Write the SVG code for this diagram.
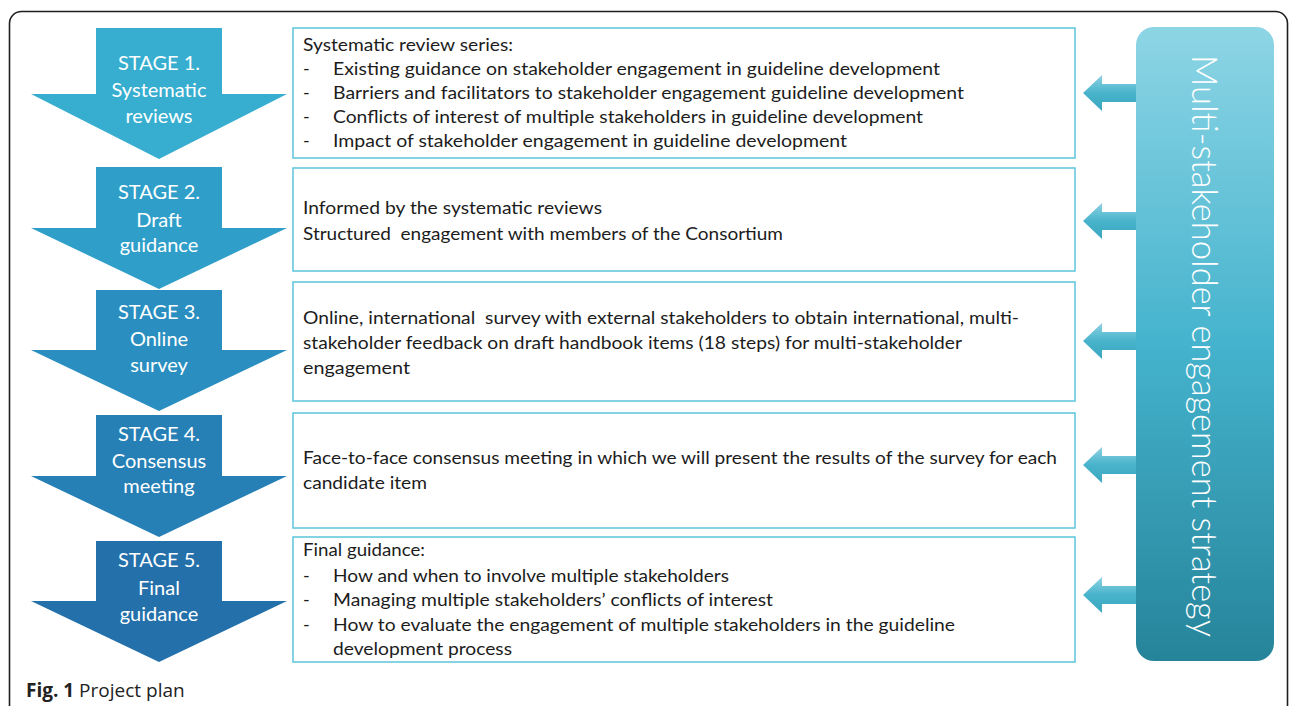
<svg xmlns="http://www.w3.org/2000/svg" width="1290" height="706" viewBox="0 0 1290 706">
<style>
.frame{fill:none;stroke:#1e1e1e;stroke-width:1.6}
.box{fill:#ffffff;stroke:#5cc5dd;stroke-width:1.5}
.st{font-family:Lato,"Open Sans","Liberation Sans",sans-serif;font-size:20px;fill:#ffffff;text-anchor:middle}
.bt{font-family:Lato,"Open Sans","Liberation Sans",sans-serif;font-size:18px;fill:#1c1c1c}
.side{font-family:Lato,"Open Sans","Liberation Sans",sans-serif;font-size:36px;font-weight:300;fill:#ffffff}
.cap{font-family:"Open Sans","Liberation Sans",sans-serif;font-size:19px;fill:#222222}
.la{fill:url(#arrowGrad)}
</style>
<defs>
<linearGradient id="sideGrad" x1="0" y1="0" x2="0" y2="1">
<stop offset="0" stop-color="#8dd5e5"/>
<stop offset="0.5" stop-color="#45b3cd"/>
<stop offset="1" stop-color="#26849a"/>
</linearGradient>
<linearGradient id="arrowGrad" x1="0" y1="0" x2="0" y2="1">
<stop offset="0" stop-color="#8ed3e3"/>
<stop offset="0.5" stop-color="#48b3cb"/>
<stop offset="1" stop-color="#3aa8c0"/>
</linearGradient>
</defs>
<rect width="1290" height="706" fill="#ffffff"/>
<rect class="frame" x="9.5" y="11.5" width="1278" height="730" rx="12"/>

<g id="stage1">
<polygon fill="#37aecf" points="96,28 222,28 222,94 287,94 159,159 31,94 96,94"/>
<text class="st" x="159" y="70">STAGE 1.</text>
<text class="st" x="159" y="97">Systematic</text>
<text class="st" x="159" y="123">reviews</text>
</g>
<g id="stage2">
<polygon fill="#2f9fc9" points="96,167 222,167 222,228 287,228 159,289 31,228 96,228"/>
<text class="st" x="159" y="199">STAGE 2.</text>
<text class="st" x="159" y="227">Draft</text>
<text class="st" x="159" y="252">guidance</text>
</g>
<g id="stage3">
<polygon fill="#2a8fc0" points="96,290 222,290 222,350 287,350 159,411 31,350 96,350"/>
<text class="st" x="159" y="319">STAGE 3.</text>
<text class="st" x="159" y="346">Online</text>
<text class="st" x="159" y="372">survey</text>
</g>
<g id="stage4">
<polygon fill="#2680b6" points="96,415 222,415 222,476 287,476 159,537 31,476 96,476"/>
<text class="st" x="159" y="441">STAGE 4.</text>
<text class="st" x="159" y="468">Consensus</text>
<text class="st" x="159" y="493">meeting</text>
</g>
<g id="stage5">
<polygon fill="#2370aa" points="96,541 222,541 222,601 287,601 159,662 31,601 96,601"/>
<text class="st" x="159" y="567">STAGE 5.</text>
<text class="st" x="159" y="595">Final</text>
<text class="st" x="159" y="621">guidance</text>
</g>

<g id="box1">
<rect class="box" x="293" y="28" width="782" height="130"/>
<text class="bt" x="303" y="51" textLength="210" lengthAdjust="spacingAndGlyphs">Systematic review series:</text>
<text class="bt" x="303" y="75">-</text>
<text class="bt" x="333" y="75" textLength="607" lengthAdjust="spacingAndGlyphs">Existing guidance on stakeholder engagement in guideline development</text>
<text class="bt" x="303" y="99">-</text>
<text class="bt" x="333" y="99" textLength="631" lengthAdjust="spacingAndGlyphs">Barriers and facilitators to stakeholder engagement guideline development</text>
<text class="bt" x="303" y="123">-</text>
<text class="bt" x="333" y="123" textLength="590" lengthAdjust="spacingAndGlyphs">Conflicts of interest of multiple stakeholders in guideline development</text>
<text class="bt" x="303" y="147">-</text>
<text class="bt" x="333" y="147" textLength="514" lengthAdjust="spacingAndGlyphs">Impact of stakeholder engagement in guideline development</text>
</g>
<g id="box2">
<rect class="box" x="293" y="168" width="782" height="103"/>
<text class="bt" x="303" y="214" textLength="299" lengthAdjust="spacingAndGlyphs">Informed by the systematic reviews</text>
<text class="bt" x="303" y="240" textLength="480" lengthAdjust="spacingAndGlyphs" xml:space="preserve" style="white-space:pre">Structured  engagement with members of the Consortium</text>
</g>
<g id="box3">
<rect class="box" x="293" y="282" width="782" height="119"/>
<text class="bt" x="303" y="324" textLength="716" lengthAdjust="spacingAndGlyphs" xml:space="preserve" style="white-space:pre">Online, international  survey with external stakeholders to obtain international, multi-</text>
<text class="bt" x="303" y="349" textLength="659" lengthAdjust="spacingAndGlyphs">stakeholder feedback on draft handbook items (18 steps) for multi-stakeholder</text>
<text class="bt" x="303" y="374" textLength="107" lengthAdjust="spacingAndGlyphs">engagement</text>
</g>
<g id="box4">
<rect class="box" x="293" y="413" width="782" height="115"/>
<text class="bt" x="303" y="464" textLength="754" lengthAdjust="spacingAndGlyphs">Face-to-face consensus meeting in which we will present the results of the survey for each</text>
<text class="bt" x="303" y="489" textLength="124" lengthAdjust="spacingAndGlyphs">candidate item</text>
</g>
<g id="box5">
<rect class="box" x="293" y="537" width="782" height="125"/>
<text class="bt" x="303" y="556" textLength="122" lengthAdjust="spacingAndGlyphs">Final guidance:</text>
<text class="bt" x="303" y="582">-</text>
<text class="bt" x="333" y="582" textLength="396" lengthAdjust="spacingAndGlyphs">How and when to involve multiple stakeholders</text>
<text class="bt" x="303" y="606">-</text>
<text class="bt" x="333" y="606" textLength="440" lengthAdjust="spacingAndGlyphs">Managing multiple stakeholders’ conflicts of interest</text>
<text class="bt" x="303" y="631">-</text>
<text class="bt" x="333" y="631" textLength="622" lengthAdjust="spacingAndGlyphs">How to evaluate the engagement of multiple stakeholders in the guideline</text>
<text class="bt" x="333" y="655" textLength="179" lengthAdjust="spacingAndGlyphs">development process</text>
</g>

<g id="strategy">
<rect x="1136" y="27" width="138" height="634" rx="18" fill="url(#sideGrad)"/>
<text class="side" transform="translate(1192,55) rotate(90)" x="0" y="0" textLength="582" lengthAdjust="spacingAndGlyphs">Multi-stakeholder engagement strategy</text>
</g>

<g id="connectors">
<polygon class="la" points="1083,93 1102,75 1102,84 1136,84 1136,102 1102,102 1102,111"/>
<polygon class="la" points="1083,221 1102,203 1102,212 1136,212 1136,230 1102,230 1102,239"/>
<polygon class="la" points="1083,341 1102,323 1102,332 1136,332 1136,350 1102,350 1102,359"/>
<polygon class="la" points="1083,465 1102,447 1102,456 1136,456 1136,474 1102,474 1102,483"/>
<polygon class="la" points="1083,595 1102,577 1102,586 1136,586 1136,604 1102,604 1102,613"/>
</g>

<text class="cap" x="26" y="697"><tspan font-weight="bold">Fig. 1</tspan> Project plan</text>
</svg>
